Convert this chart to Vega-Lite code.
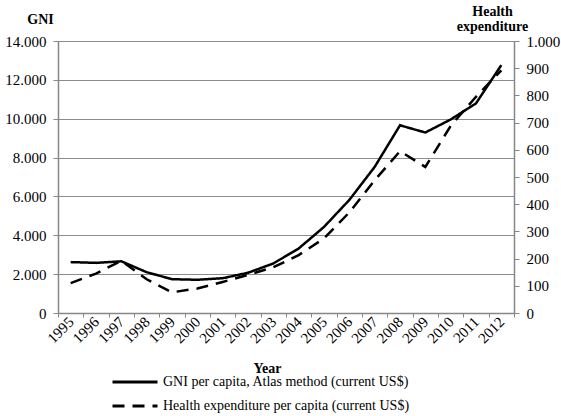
{
  "$schema": "https://vega.github.io/schema/vega-lite/v6.json",
  "width": 456,
  "height": 272,
  "autosize": {"type": "none"},
  "padding": {"left": 58, "top": 41, "right": 47, "bottom": 103},
  "background": "white",
  "config": {
    "locale": {"number": {"decimal": ",", "thousands": ".", "grouping": [3], "currency": ["", ""]}},
    "font": "Liberation Serif",
    "view": {"stroke": null},
    "axis": {
      "labelFont": "Liberation Serif",
      "labelFontSize": 15,
      "labelColor": "black",
      "titleFont": "Liberation Serif",
      "titleFontSize": 14,
      "titleFontWeight": "bold",
      "titleColor": "black",
      "domainColor": "#878787",
      "domainWidth": 1.5,
      "tickColor": "#878787",
      "tickWidth": 1,
      "gridColor": "#8c8c8c",
      "gridWidth": 1
    }
  },
  "data": {
    "values": [
      {"year": 1995, "series": "GNI per capita, Atlas method (current US$)", "value": 2620},
      {"year": 1996, "series": "GNI per capita, Atlas method (current US$)", "value": 2580},
      {"year": 1997, "series": "GNI per capita, Atlas method (current US$)", "value": 2660},
      {"year": 1998, "series": "GNI per capita, Atlas method (current US$)", "value": 2100},
      {"year": 1999, "series": "GNI per capita, Atlas method (current US$)", "value": 1740},
      {"year": 2000, "series": "GNI per capita, Atlas method (current US$)", "value": 1710},
      {"year": 2001, "series": "GNI per capita, Atlas method (current US$)", "value": 1790},
      {"year": 2002, "series": "GNI per capita, Atlas method (current US$)", "value": 2070},
      {"year": 2003, "series": "GNI per capita, Atlas method (current US$)", "value": 2550},
      {"year": 2004, "series": "GNI per capita, Atlas method (current US$)", "value": 3320},
      {"year": 2005, "series": "GNI per capita, Atlas method (current US$)", "value": 4430},
      {"year": 2006, "series": "GNI per capita, Atlas method (current US$)", "value": 5820},
      {"year": 2007, "series": "GNI per capita, Atlas method (current US$)", "value": 7520},
      {"year": 2008, "series": "GNI per capita, Atlas method (current US$)", "value": 9660},
      {"year": 2009, "series": "GNI per capita, Atlas method (current US$)", "value": 9290},
      {"year": 2010, "series": "GNI per capita, Atlas method (current US$)", "value": 9960},
      {"year": 2011, "series": "GNI per capita, Atlas method (current US$)", "value": 10790},
      {"year": 2012, "series": "GNI per capita, Atlas method (current US$)", "value": 12760},
      {"year": 1995, "series": "Health expenditure per capita (current US$)", "value": 110},
      {"year": 1996, "series": "Health expenditure per capita (current US$)", "value": 145},
      {"year": 1997, "series": "Health expenditure per capita (current US$)", "value": 192},
      {"year": 1998, "series": "Health expenditure per capita (current US$)", "value": 124},
      {"year": 1999, "series": "Health expenditure per capita (current US$)", "value": 76},
      {"year": 2000, "series": "Health expenditure per capita (current US$)", "value": 90},
      {"year": 2001, "series": "Health expenditure per capita (current US$)", "value": 114},
      {"year": 2002, "series": "Health expenditure per capita (current US$)", "value": 140},
      {"year": 2003, "series": "Health expenditure per capita (current US$)", "value": 168},
      {"year": 2004, "series": "Health expenditure per capita (current US$)", "value": 213},
      {"year": 2005, "series": "Health expenditure per capita (current US$)", "value": 274},
      {"year": 2006, "series": "Health expenditure per capita (current US$)", "value": 370},
      {"year": 2007, "series": "Health expenditure per capita (current US$)", "value": 488},
      {"year": 2008, "series": "Health expenditure per capita (current US$)", "value": 595},
      {"year": 2009, "series": "Health expenditure per capita (current US$)", "value": 537},
      {"year": 2010, "series": "Health expenditure per capita (current US$)", "value": 688},
      {"year": 2011, "series": "Health expenditure per capita (current US$)", "value": 795},
      {"year": 2012, "series": "Health expenditure per capita (current US$)", "value": 892}
    ]
  },
  "encoding": {
    "x": {
      "field": "year",
      "type": "ordinal",
      "bandPosition": 0.5,
      "scale": {"type": "band", "paddingInner": 0, "paddingOuter": 0},
      "axis": {
        "title": "Year",
        "tickBand": "extent",
        "labelAngle": -45,
        "labelAlign": "right",
        "labelBaseline": "middle",
        "labelPadding": 2,
        "tickSize": 4,
        "grid": false,
        "titleX": 209,
        "titleY": 59,
        "titleAnchor": null,
        "titleAlign": "center",
        "titleBaseline": "alphabetic"
      }
    },
    "strokeDash": {
      "field": "series",
      "type": "nominal",
      "scale": {
        "domain": ["GNI per capita, Atlas method (current US$)", "Health expenditure per capita (current US$)"],
        "range": [[1, 0], [12, 8]]
      },
      "legend": {
        "orient": "none",
        "legendX": 68,
        "legendY": 332,
        "direction": "vertical",
        "title": null,
        "symbolType": "M-3,0H3",
        "symbolSize": 225,
        "symbolStrokeWidth": 3,
        "symbolStrokeColor": "black",
        "labelFont": "Liberation Serif",
        "labelFontSize": 14,
        "labelColor": "black",
        "labelLimit": 0,
        "labelOffset": 19,
        "rowPadding": 8
      }
    }
  },
  "layer": [
    {
      "transform": [{"filter": "datum.series === 'GNI per capita, Atlas method (current US$)'"}],
      "mark": {"type": "line", "color": "black", "strokeWidth": 2.5},
      "encoding": {
        "y": {
          "field": "value",
          "type": "quantitative",
          "scale": {"domain": [0, 14000], "nice": false},
          "axis": {
            "orient": "left",
            "values": [0, 2000, 4000, 6000, 8000, 10000, 12000, 14000],
            "format": ",d",
            "grid": true,
            "tickSize": 5,
            "labelPadding": 7,
            "title": "GNI",
            "titleAngle": 0,
            "titleAlign": "center",
            "titleBaseline": "alphabetic",
            "titleX": -18,
            "titleY": -18
          }
        }
      }
    },
    {
      "transform": [{"filter": "datum.series === 'Health expenditure per capita (current US$)'"}],
      "mark": {"type": "line", "color": "black", "strokeWidth": 2.5},
      "encoding": {
        "y": {
          "field": "value",
          "type": "quantitative",
          "scale": {"domain": [0, 1000], "nice": false},
          "axis": {
            "orient": "right",
            "values": [0, 100, 200, 300, 400, 500, 600, 700, 800, 900, 1000],
            "format": ",d",
            "grid": false,
            "tickSize": 5,
            "labelPadding": 7,
            "title": ["Health", "expenditure"],
            "titleAngle": 0,
            "titleAlign": "center",
            "titleBaseline": "alphabetic",
            "titleLineHeight": 15,
            "titleX": -22,
            "titleY": -26
          }
        }
      }
    }
  ],
  "resolve": {"scale": {"y": "independent"}}
}
